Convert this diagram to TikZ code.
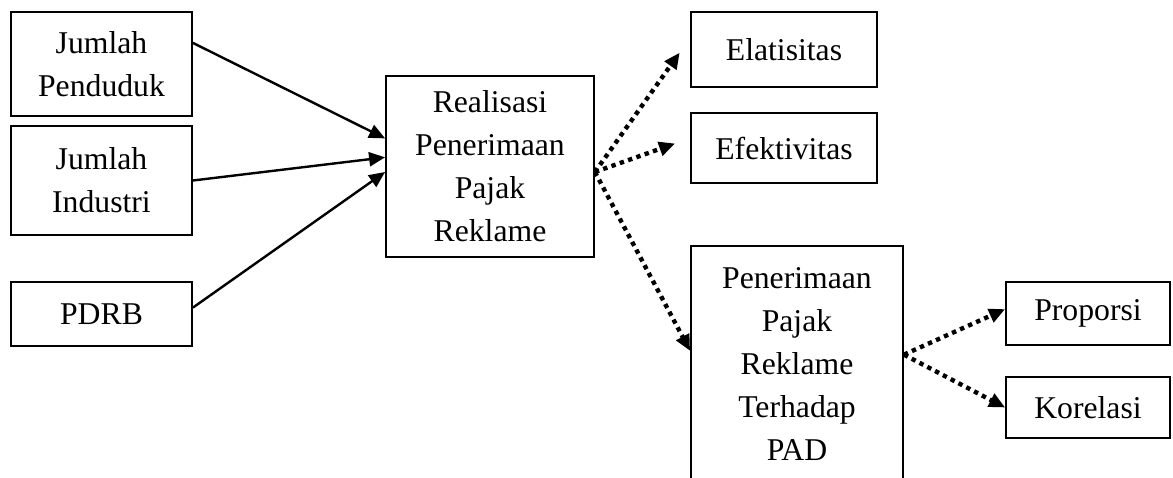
\documentclass[tikz,border=0pt]{standalone}
\usepackage{fontspec}
\setmainfont{Liberation Serif}
\usetikzlibrary{arrows.meta}
\tikzset{
  box/.style={draw, line width=1.8pt, align=center, inner sep=0pt,
    font=\fontsize{31.7}{43}\selectfont},
  solidarrow/.style={line width=2.4pt, -{Triangle[length=16pt,width=14pt]}},
  dotarrow/.style={line width=4.4pt, dash pattern=on 4.4pt off 4.4pt,
    -{Triangle[length=16pt,width=14pt]}},
}
\begin{document}
\begin{tikzpicture}[x=1pt,y=-1pt]
\useasboundingbox (0,0) rectangle (1173,477);
\clip (0,0) rectangle (1173,477);
\node[box, minimum width=181pt, minimum height=104pt] (pend) at (101.5,64) {Jumlah\\Penduduk};
\node[box, minimum width=181pt, minimum height=109pt] (ind) at (101.5,180.5) {Jumlah\\Industri};
\node[box, minimum width=181pt, minimum height=64pt] (pdrb) at (101.5,314) {PDRB};
\node[box, minimum width=208pt, minimum height=181pt] (real) at (490,166.5) {Realisasi\\Penerimaan\\Pajak\\Reklame};
\node[box, minimum width=186pt, minimum height=75pt] (ela) at (784,49.5) {Elatisitas};
\node[box, minimum width=186pt, minimum height=70pt] (efk) at (784,148) {Efektivitas};
\node[box, minimum width=212pt, minimum height=236pt] (pen) at (797,364) {Penerimaan\\Pajak\\Reklame\\Terhadap\\PAD};
\node[box, minimum width=164pt, minimum height=63pt] (prop) at (1088,313.5) {Proporsi};
\node[box, minimum width=164pt, minimum height=61pt] (kor) at (1088,407.5) {Korelasi};

\draw[solidarrow] (pend.13.5) -- (real.165.7);
\draw[solidarrow] (ind.east) -- (real.175.9);
\draw[solidarrow] (pdrb.4) -- (real.183);

\draw[dotarrow, shorten >=18pt] (real.-3) -- (ela.173.3);
\draw[dotarrow, shorten >=16pt] (real.-3) -- (efk.174.9);
\draw[dotarrow] (real.-3) -- (pen.173.5);
\draw[dotarrow] (pen.5.4) -- (prop.177.6);
\draw[dotarrow] (pen.5.4) -- (kor.west);
\end{tikzpicture}
\end{document}
